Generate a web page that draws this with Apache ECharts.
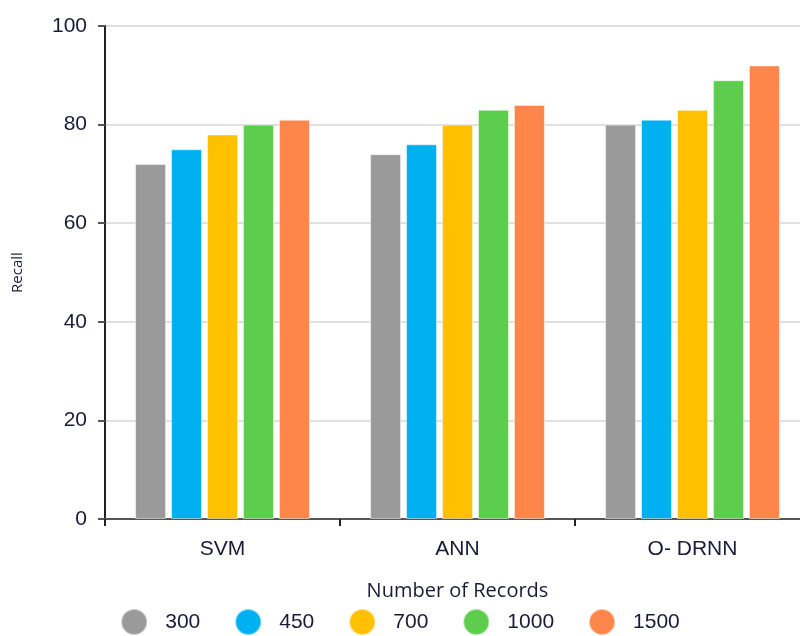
<!DOCTYPE html>
<html>
<head>
<meta charset="utf-8">
<script src="https://cdn.jsdelivr.net/npm/echarts@6/dist/echarts.min.js"></script>
<style>
  html, body { margin: 0; padding: 0; background: #fff; }
  #chart { width: 800px; height: 636px; }
</style>
</head>
<body>
<div id="chart"></div>
<script>
// Recall per model, grouped by the number of records used
const categories = ['SVM', 'ANN', 'O- DRNN'];
const seriesNames = ['300', '450', '700', '1000', '1500'];
const recall300 = [72, 74, 80];
const recall450 = [75, 76, 81];
const recall700 = [78, 80, 83];
const recall1000 = [80, 83, 89];
const recall1500 = [81, 84, 92];
const yTicks = [0, 20, 40, 60, 80, 100];

const colors = ['#9a9a9a', '#00b0f0', '#ffc000', '#5ccd4c', '#ff864a'];
const values = [recall300, recall450, recall700, recall1000, recall1500];

const textColor = '#1a1a3a';
const font = 'Liberation Sans, Arial, sans-serif';

const chart = echarts.init(document.getElementById('chart'));
chart.setOption({
  animation: false,
  color: colors,
  // the plot runs a little past the right edge of the canvas
  grid: { left: 105, top: 26, width: 705, height: 493, containLabel: false, outerBoundsMode: 'none' },
  legend: {
    data: seriesNames,
    bottom: 0,
    left: 'center',
    padding: 0,
    icon: 'circle',
    itemWidth: 26,
    itemHeight: 26,
    itemGap: 34,
    textStyle: { fontSize: 21, color: textColor, fontFamily: font, padding: [0, 0, 0, 13] }
  },
  xAxis: {
    type: 'category',
    data: categories,
    name: 'Number of Records',
    nameLocation: 'middle',
    nameGap: 62,
    nameTextStyle: { fontSize: 20, color: textColor, fontFamily: 'Open Sans, sans-serif' },
    axisLine: { lineStyle: { color: '#555', width: 2 } },
    axisTick: { show: true, length: 7, lineStyle: { color: '#222', width: 2 } },
    axisLabel: { fontSize: 21, color: textColor, fontFamily: font, margin: 20 }
  },
  yAxis: {
    type: 'value',
    min: 0,
    max: 100,
    interval: 20,
    name: 'Recall',
    nameLocation: 'middle',
    nameGap: 80,
    nameRotate: 90,
    nameTextStyle: { fontSize: 15, color: textColor, fontFamily: 'Open Sans, sans-serif' },
    axisLine: { show: true, lineStyle: { color: '#222', width: 2 } },
    axisTick: { show: true, length: 7, lineStyle: { color: '#555', width: 2 } },
    axisLabel: {
      fontSize: 21, color: textColor, fontFamily: font, margin: 18,
      formatter: v => (yTicks.includes(v) ? String(v) : '')
    },
    splitLine: { lineStyle: { color: '#e0e0e0', width: 2 } }
  },
  series: seriesNames.map((name, i) => ({
    name,
    type: 'bar',
    data: values[i],
    barWidth: 31,
    barGap: '16%',
    itemStyle: { color: colors[i], borderColor: 'rgba(255,255,255,0.5)', borderWidth: 1 }
  }))
});
</script>
</body>
</html>
